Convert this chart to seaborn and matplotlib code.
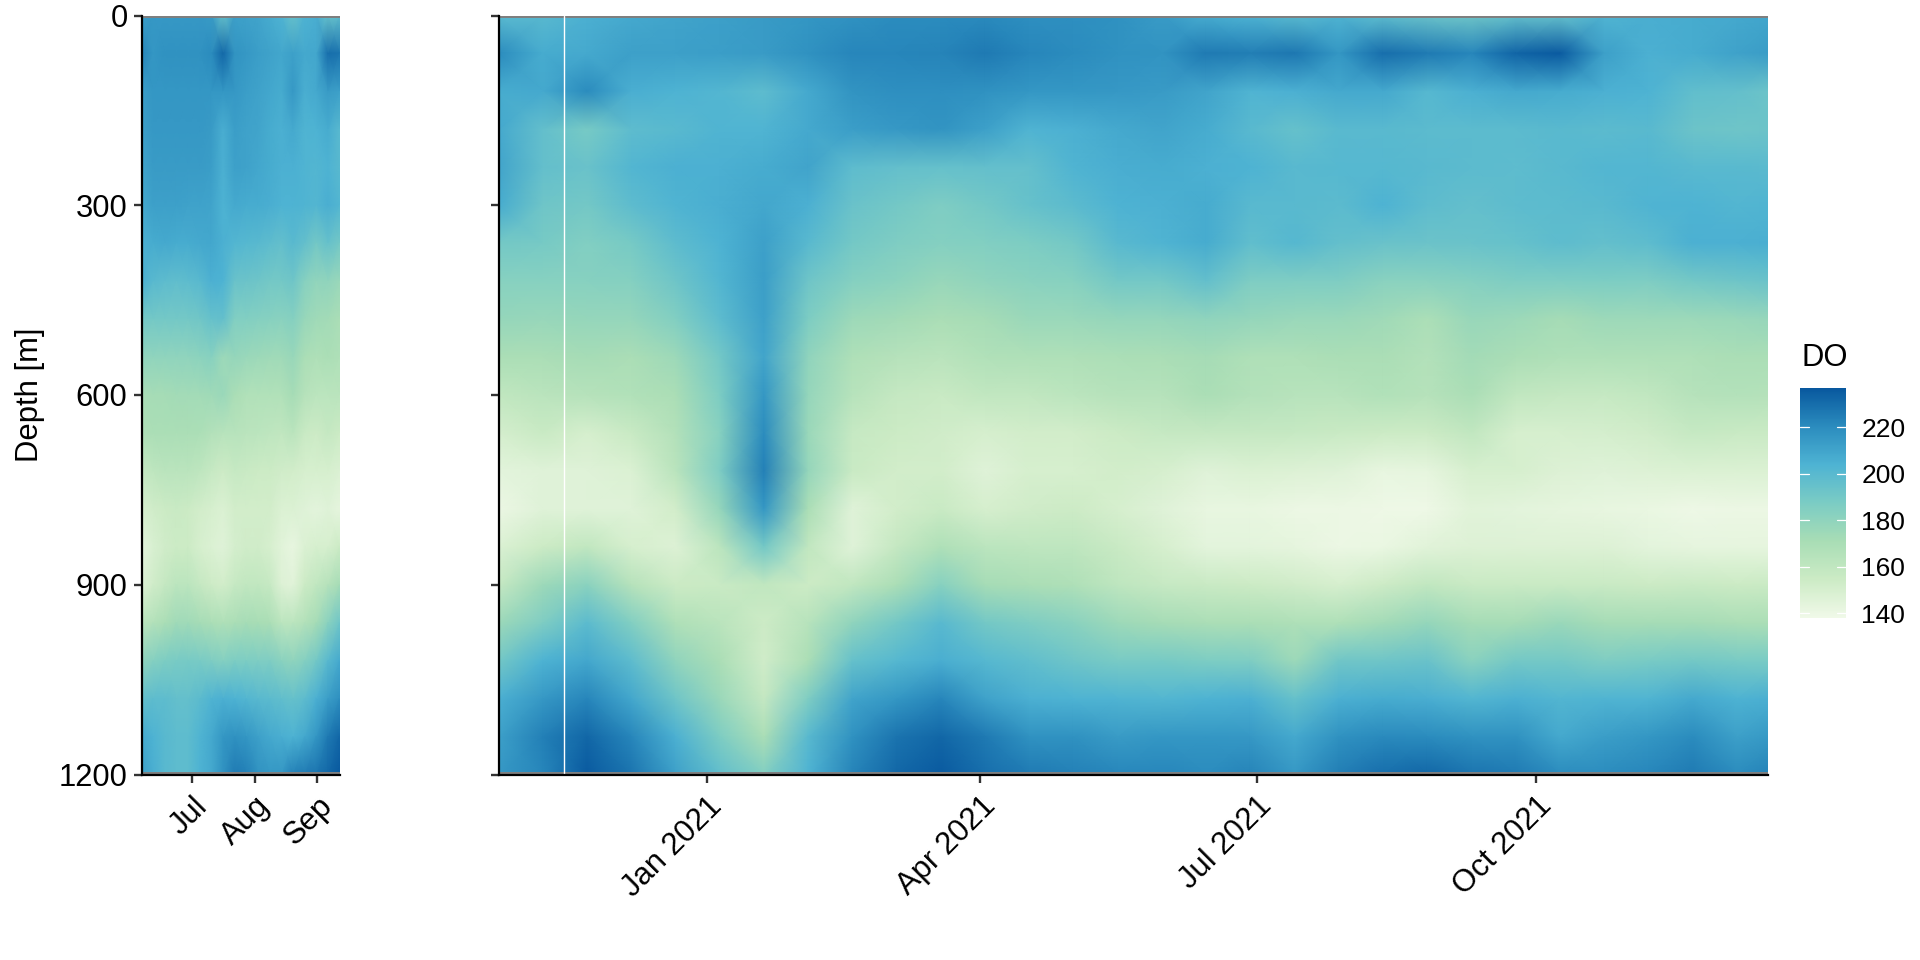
import numpy as np
import pandas as pd
import matplotlib
matplotlib.use("Agg")
import matplotlib.pyplot as plt
from matplotlib.colors import LinearSegmentedColormap
import seaborn as sns

depths = list(range(0, 1201, 60))
early_dates = pd.date_range("2020-06-06", "2020-09-12", periods=18)
late_dates = pd.date_range("2020-10-24 12:00", "2021-12-20 12:00", periods=30)
late_end = pd.Timestamp("2021-12-16")
gap_date = pd.Timestamp("2020-11-15")

early_ticks = ["2020-07-01", "2020-08-01", "2020-09-01"]
early_labels = ["Jul", "Aug", "Sep"]
late_ticks = ["2021-01-01", "2021-04-01", "2021-07-01", "2021-10-01"]
late_labels = ["Jan 2021", "Apr 2021", "Jul 2021", "Oct 2021"]
depth_ticks = [0, 300, 600, 900, 1200]
do_ticks = [140, 160, 180, 200, 220]
do_min, do_max = 138, 237
palette = ["#F0F9E8", "#CCEBC5", "#A8DDB5", "#7BCCC4", "#4EB3D3", "#2B8CBE", "#08589E"]

early_0000 = [213,215,215,215,215,215,214,195,212,211,210,207,204,195,204,206,195,197]
early_0060 = [222,216,218,218,218,218,220,232,217,215,213,211,209,212,208,209,230,228]
early_0120 = [213,216,216,216,216,216,216,216,215,213,211,209,207,215,206,208,214,212]
early_0180 = [212,215,215,215,215,215,214,206,213,211,210,207,205,208,203,204,207,200]
early_0240 = [210,214,214,214,214,214,213,205,212,211,209,207,205,205,203,202,204,200]
early_0300 = [208,212,212,212,211,211,210,204,208,207,207,206,204,204,203,202,206,202]
early_0360 = [205,207,208,207,207,208,209,205,202,201,200,198,196,200,196,190,195,190]
early_0420 = [205,200,198,197,198,200,205,204,194,193,192,190,190,192,183,179,180,176]
early_0480 = [190,190,190,190,190,191,195,196,185,185,184,183,182,184,177,174,173,170]
early_0540 = [180,180,180,180,180,181,183,175,178,176,175,174,174,177,170,168,170,168]
early_0600 = [170,172,172,173,173,173,174,176,170,167,167,167,167,172,165,162,162,163]
early_0660 = [168,170,170,170,170,169,166,164,164,163,162,161,160,163,156,154,158,155]
early_0720 = [158,161,163,163,163,161,157,154,157,156,155,155,153,152,150,150,150,148]
early_0780 = [150,153,155,156,155,152,150,148,152,152,152,152,148,148,146,144,146,143]
early_0840 = [144,149,153,155,155,150,148,146,151,153,153,150,145,142,148,150,150,155]
early_0900 = [147,153,158,162,162,158,154,152,157,160,160,157,147,145,155,160,165,172]
early_0960 = [162,166,170,174,174,172,170,168,170,172,171,170,162,162,166,172,182,192]
early_1020 = [180,184,187,188,189,188,186,184,187,187,186,186,182,180,184,190,200,208]
early_1080 = [196,198,198,196,196,199,203,205,204,202,200,199,197,195,198,205,213,219]
early_1140 = [208,204,200,198,198,203,208,216,218,216,212,208,206,204,208,216,226,232]
early_1200 = [212,206,200,198,198,204,208,218,226,224,218,216,216,224,226,228,232,237]

late_0000 = [200,200,205,208,210,212,214,216,218,220,220,221,219,219,218,214,207,204,200,203,198,194,192,196,196,203,206,207,208,210]
late_0060 = [220,207,208,212,212,213,214,218,222,222,223,226,222,220,218,217,226,225,227,216,230,226,222,233,236,212,205,207,211,214]
late_0120 = [207,208,220,206,204,202,198,208,217,219,219,218,216,216,215,214,210,203,205,208,208,201,205,208,207,205,204,197,196,192]
late_0180 = [208,196,189,198,200,203,203,208,213,215,217,212,203,205,208,210,207,200,195,200,200,199,199,199,200,199,200,193,192,193]
late_0240 = [210,196,194,202,205,205,207,210,198,196,195,196,196,203,206,207,205,204,200,201,201,200,199,198,200,202,202,200,200,199]
late_0300 = [207,192,190,198,203,206,209,205,194,190,186,190,195,199,204,205,207,200,200,199,204,198,196,198,199,200,203,204,202,203]
late_0360 = [190,189,185,189,198,204,212,200,190,186,184,185,187,190,200,203,207,197,201,196,194,193,194,195,198,196,198,205,205,206]
late_0420 = [183,183,183,184,192,202,213,192,184,181,177,180,182,183,190,190,196,186,186,186,182,182,184,186,186,187,186,190,192,194]
late_0480 = [178,177,178,178,185,198,212,187,175,173,170,172,176,176,178,178,180,178,176,176,174,169,177,175,172,175,175,175,176,178]
late_0540 = [170,170,172,170,175,190,210,180,168,165,163,167,168,168,169,170,172,168,168,170,170,166,173,170,168,168,168,168,170,170]
late_0600 = [160,163,165,167,170,187,216,178,164,158,156,160,160,162,165,165,170,166,164,164,167,165,170,160,158,157,160,165,166,165]
late_0660 = [151,156,150,156,166,183,220,176,157,155,153,150,152,152,155,157,158,158,157,156,155,155,160,150,150,151,153,157,156,156]
late_0720 = [144,146,146,148,163,186,224,178,156,152,152,146,150,150,152,150,146,148,147,146,142,143,150,150,147,146,147,148,148,148]
late_0780 = [140,146,146,146,152,178,216,170,146,152,156,150,153,154,150,146,142,142,140,140,139,139,145,144,143,142,141,139,140,140]
late_0840 = [148,155,160,150,147,162,190,160,146,158,168,162,161,161,156,150,144,144,143,140,141,145,147,147,147,147,144,143,143,143]
late_0900 = [158,175,182,165,155,156,160,155,160,170,183,172,170,168,161,157,156,155,153,150,154,160,156,156,156,156,155,156,155,156]
late_0960 = [175,186,199,185,168,163,154,164,180,190,200,190,186,182,175,172,170,170,168,168,173,178,172,172,176,172,172,172,170,170]
late_1020 = [190,204,209,198,180,170,153,170,195,201,206,201,197,192,188,189,187,186,175,191,192,194,182,190,190,186,188,190,188,188]
late_1080 = [205,215,222,209,192,176,158,186,210,216,222,211,205,204,203,202,204,205,195,205,207,206,202,205,202,203,203,208,204,206]
late_1140 = [212,224,232,222,205,187,170,200,218,228,232,226,218,218,214,216,216,215,208,218,221,220,218,218,208,213,216,220,212,216]
late_1200 = [215,222,236,228,212,197,185,204,223,232,236,230,226,224,222,222,220,223,215,225,230,232,228,226,220,220,222,226,220,224]

early_rows = [early_0000, early_0060, early_0120, early_0180, early_0240, early_0300, early_0360,
              early_0420, early_0480, early_0540, early_0600, early_0660, early_0720, early_0780,
              early_0840, early_0900, early_0960, early_1020, early_1080, early_1140, early_1200]
late_rows = [late_0000, late_0060, late_0120, late_0180, late_0240, late_0300, late_0360,
             late_0420, late_0480, late_0540, late_0600, late_0660, late_0720, late_0780,
             late_0840, late_0900, late_0960, late_1020, late_1080, late_1140, late_1200]

early = pd.DataFrame(early_rows, index=depths, columns=early_dates)
late = pd.DataFrame(late_rows, index=depths, columns=late_dates)

sns.set_theme(style="white")
plt.rcParams["font.family"] = ["Liberation Sans", "DejaVu Sans"]
W, H = 1920, 960
fig = plt.figure(figsize=(W / 100, H / 100), dpi=100, facecolor="white")


def box(x0, y0, x1, y1):
    return [x0 / W, 1 - y1 / H, (x1 - x0) / W, (y1 - y0) / H]


ax_l = fig.add_axes(box(141.5, 15.5, 339.5, 774.5))
ax_r = fig.add_axes(box(498.5, 15.5, 1767.5, 774.5))
cax = fig.add_axes(box(1800, 388, 1846, 617.7))
cmap = LinearSegmentedColormap.from_list("gnbu7", palette, N=256)


def day(values):
    return pd.to_datetime(values).astype("int64").to_numpy(dtype=float)


def panel(ax, frame, ticks, labels, show_y, end):
    sns.heatmap(frame, ax=ax, cmap=cmap, vmin=do_min, vmax=do_max, cbar=False,
                xticklabels=False, yticklabels=False, shading="gouraud")
    nrow = frame.shape[0] - 1
    col_pos = np.arange(frame.shape[1])
    row_pos = np.arange(frame.shape[0])
    ax.set_xlim(0, np.interp(day([end]), day(frame.columns), col_pos)[0])
    ax.set_ylim(nrow, 0)
    ax.set_xticks(np.interp(day(ticks), day(frame.columns), col_pos))
    ax.set_xticklabels(labels, rotation=45, ha="right", rotation_mode="anchor",
                       fontsize=22.3, color="black")
    ax.set_yticks(np.interp(depth_ticks, frame.index, row_pos))
    ax.set_yticklabels([str(d) for d in depth_ticks] if show_y else [],
                       fontsize=22.3, color="black")
    ax.tick_params(axis="both", length=6, width=1.7, color="#333333", pad=4,
                   bottom=True, left=True)
    ax.tick_params(axis="x", pad=6)
    ax.set_xlabel("")
    ax.set_ylabel("")
    band = 4.3 / (frame.index[1] - frame.index[0])
    ax.axhspan(0, band, color="#7f7f7f", lw=0, zorder=3)
    ax.axhspan(nrow - band, nrow, color="#7f7f7f", lw=0, zorder=3)
    for name, spine in ax.spines.items():
        spine.set_visible(name in ("left", "bottom"))
        spine.set_color("black")
        spine.set_linewidth(1.6)
        spine.set_zorder(5)


panel(ax_l, early, early_ticks, early_labels, True, early_dates[-1])
panel(ax_r, late, late_ticks, late_labels, False, late_end)
ax_r.axvline(np.interp(day([gap_date]), day(late.columns), np.arange(late.shape[1]))[0],
             color="white", lw=1.0, zorder=4)
ax_l.set_ylabel("Depth [m]", fontsize=22.3, color="black")
ax_l.yaxis.set_label_coords((45 - 141.5) / 198, 0.5)

mesh = ax_r.collections[0]
cbar = fig.colorbar(mesh, cax=cax)
cbar.outline.set_visible(False)
cbar.set_ticks(do_ticks)
cbar.ax.tick_params(length=0, labelsize=19, labelcolor="black", pad=11)
cbar.ax.yaxis.set_ticks_position("right")
for v in do_ticks:
    cax.plot([0, 0.2], [v, v], color="white", lw=0.9, transform=cax.get_yaxis_transform())
    cax.plot([0.8, 1.0], [v, v], color="white", lw=0.9, transform=cax.get_yaxis_transform())
cax.set_ylim(do_min, do_max)
fig.text(1802 / W, 1 - 358 / H, "DO", fontsize=22.3, color="black", ha="left", va="center")

fig.savefig("out.png", dpi=100, facecolor="white")
